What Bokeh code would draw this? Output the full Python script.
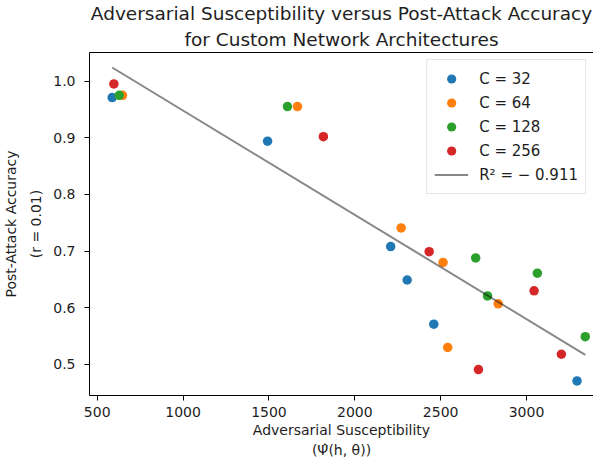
from bokeh.plotting import figure
from bokeh.models import Title, LinearAxis, FixedTicker, Range1d, Legend, LegendItem, NumeralTickFormatter
from bokeh.embed import file_html
from bokeh.resources import INLINE

# Data
c32_x = [587, 1492, 2209, 2305, 2460, 3294]
c32_y = [0.971, 0.894, 0.708, 0.649, 0.571, 0.471]
c64_x = [647, 1666, 2270, 2514, 2835, 2541]
c64_y = [0.975, 0.955, 0.741, 0.680, 0.607, 0.530]
c128_x = [628, 1608, 2704, 2773, 3063, 3342]
c128_y = [0.975, 0.955, 0.688, 0.621, 0.661, 0.549]
c256_x = [597, 1817, 2433, 2720, 3044, 3203]
c256_y = [0.995, 0.902, 0.699, 0.491, 0.630, 0.518]
fit_x = [587, 3342]
fit_y = [1.024, 0.517]

series_labels = ["C = 32", "C = 64", "C = 128", "C = 256"]
fit_label = "R\u00b2 = \u2212 0.911"
x_ticks = [500, 1000, 1500, 2000, 2500, 3000]
y_ticks = [0.5, 0.6, 0.7, 0.8, 0.9, 1.0]

FONT = "DejaVu Sans"
TXT = "#1e1e1e"

p = figure(width=593, height=458, output_backend="svg", toolbar_location=None,
           x_range=Range1d(455, 3390), y_range=Range1d(0.4452, 1.0505),
           min_border_left=87, min_border_right=0, min_border_top=0, min_border_bottom=0)
p.title = None
p.grid.visible = False
p.outline_line_color = None

for ax in (p.xaxis[0], p.yaxis[0]):
    ax.axis_line_color = "black"
    ax.major_tick_line_color = "black"
    ax.major_tick_out = 5
    ax.major_tick_in = 0
    ax.minor_tick_line_color = None
    ax.major_label_text_font = FONT
    ax.major_label_text_font_size = "14px"
    ax.major_label_text_color = TXT
p.xaxis[0].major_label_standoff = 6
p.yaxis[0].major_label_standoff = 9
p.xaxis[0].ticker = FixedTicker(ticks=x_ticks)
p.yaxis[0].ticker = FixedTicker(ticks=y_ticks)
p.yaxis[0].formatter = NumeralTickFormatter(format="0.0")

top_axis = LinearAxis(ticker=FixedTicker(ticks=[]), axis_line_color="black",
                      major_tick_line_color=None, minor_tick_line_color=None,
                      major_label_standoff=0)
p.add_layout(top_axis, "above")

colors = ["#1f77b4", "#ff7f0e", "#2ca02c", "#d62728"]
xs = [c32_x, c64_x, c128_x, c256_x]
ys = [c32_y, c64_y, c128_y, c256_y]
items = []
for x, y, c, lab in zip(xs, ys, colors, series_labels):
    r = p.scatter(x, y, size=9.5, fill_color=c, line_color=None)
    items.append(LegendItem(label=lab, renderers=[r]))
lr = p.line(fit_x, fit_y, line_color="black", line_alpha=0.47, line_width=2)
items.append(LegendItem(label=fit_label, renderers=[lr]))

legend = Legend(items=items, location="top_right", margin=7,
                label_text_font=FONT, label_text_font_size="15px", label_text_color=TXT,
                glyph_width=34, glyph_height=23, label_height=23, spacing=1,
                label_standoff=11, padding=7,
                border_line_color="#cccccc", border_line_width=1,
                background_fill_color="white", background_fill_alpha=0.8)
p.add_layout(legend)

title2 = Title(text="for Custom Network Architectures",
               align="center", text_font=FONT, text_font_size="18.5px",
               text_font_style="normal", text_color=TXT, standoff=6, offset=0)
title1 = Title(text="Adversarial Susceptibility versus Post-Attack Accuracy",
               align="center", text_font=FONT, text_font_size="18.5px",
               text_font_style="normal", text_color=TXT, standoff=0, offset=0)
p.add_layout(title2, "above")
p.add_layout(title1, "above")

xl1 = Title(text="Adversarial Susceptibility", align="center", text_font=FONT,
            text_font_size="14px", text_font_style="normal", text_color=TXT, standoff=1)
xl2 = Title(text="(\u03a8\u0302(h, \u03b8))", align="center", text_font=FONT,
            text_font_size="14px", text_font_style="normal", text_color=TXT, standoff=2)
p.add_layout(xl1, "below")
p.add_layout(xl2, "below")

yl2 = Title(text="(r = 0.01)", align="center", text_font=FONT,
            text_font_size="14px", text_font_style="normal", text_color=TXT, standoff=14)
yl1 = Title(text="Post-Attack Accuracy", align="center", text_font=FONT,
            text_font_size="14px", text_font_style="normal", text_color=TXT, standoff=0)
p.add_layout(yl2, "left")
p.add_layout(yl1, "left")

open("out.html", "w").write(file_html(p, INLINE))
